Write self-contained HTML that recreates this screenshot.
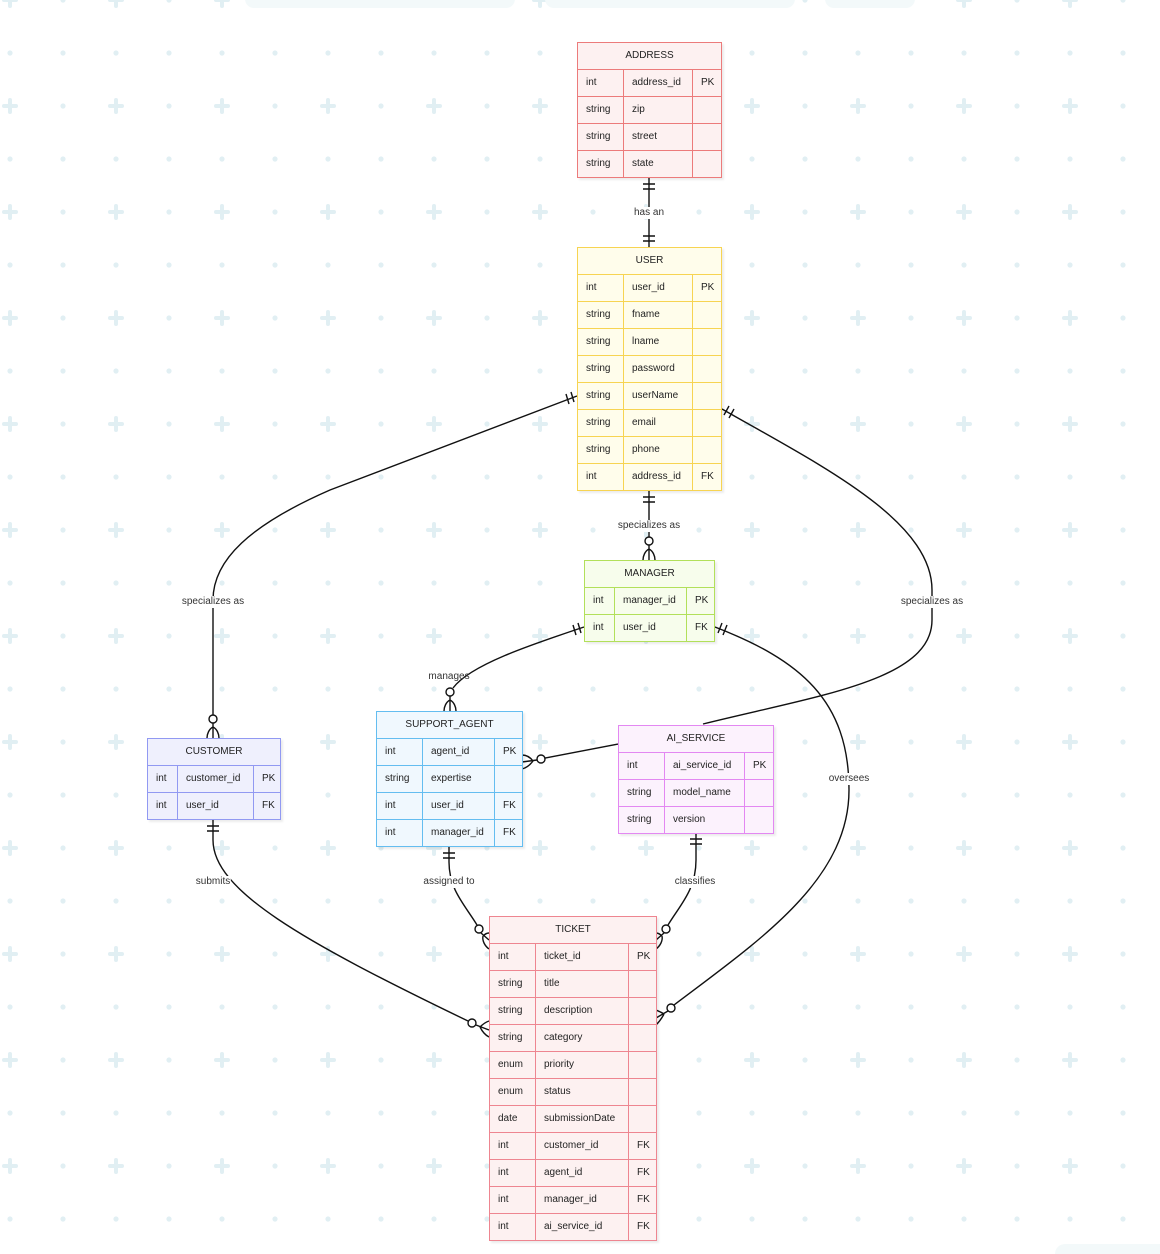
<!DOCTYPE html>
<html><head><meta charset="utf-8">
<style>
html,body{margin:0;padding:0;background:#fff;}
body{width:1160px;height:1254px;position:relative;overflow:hidden;font-family:"Liberation Sans","DejaVu Sans",sans-serif;}
svg{position:absolute;left:0;top:0;}
.t{position:absolute;box-sizing:border-box;font-size:10px;color:#222;box-shadow:2px 2px 2px rgba(0,0,0,0.08);}
.t .h{height:26px;line-height:26px;text-align:center;box-sizing:border-box;}
.t .r{display:flex;height:27px;line-height:26px;box-sizing:border-box;}
.t .r div{box-sizing:border-box;padding-left:8px;white-space:nowrap;}
.lbl{position:absolute;font-size:10px;color:#333;background:#fff;transform:translate(-50%,-50%);white-space:nowrap;padding:0 1px;line-height:12px;}
</style></head><body>
<svg width="1160" height="1254">
<defs>
<pattern id="bg" patternUnits="userSpaceOnUse" x="-43" y="-53" width="106" height="106">
<circle cx="0" cy="0" r="2.6" fill="#e1eff3"/><circle cx="106" cy="0" r="2.6" fill="#e1eff3"/><circle cx="0" cy="106" r="2.6" fill="#e1eff3"/><circle cx="106" cy="106" r="2.6" fill="#e1eff3"/>
<circle cx="53" cy="0" r="2.6" fill="#e1eff3"/><circle cx="53" cy="106" r="2.6" fill="#e1eff3"/>
<circle cx="0" cy="53" r="2.6" fill="#e1eff3"/><circle cx="106" cy="53" r="2.6" fill="#e1eff3"/>
<rect x="45" y="51" width="16" height="4" rx="2" fill="#e1eff3"/><rect x="51" y="45" width="4" height="16" rx="2" fill="#e1eff3"/>
</pattern>
</defs>
<rect width="1160" height="1254" fill="url(#bg)"/>
<rect x="245" y="-10" width="270" height="18" rx="9" fill="#f3f9fa"/>
<rect x="545" y="-10" width="250" height="18" rx="9" fill="#f3f9fa"/>
<rect x="825" y="-10" width="90" height="18" rx="9" fill="#f3f9fa"/>
<rect x="1055" y="1244" width="120" height="20" rx="10" fill="#f3f9fa"/>
<g fill="none" stroke="#111" stroke-width="1.4">
<path d="M649,178 L649,247"/>
<path d="M643,184 h12 M643,189 h12 M643,236 h12 M643,241 h12"/>
<path d="M649,491 L649,537"/>
<path d="M643,497 h12 M643,502 h12"/>
<circle cx="649" cy="541" r="4" fill="#fff"/>
<path d="M649,545 L649,560 M649,549 C645,551 643,556 643,560 M649,549 C653,551 655,556 655,560"/>
<path d="M577,396 L330,490 C250,525 213,560 213,600 L213,715"/>
<path d="M566,394 l3,10 M571,392 l3,10"/>
<circle cx="213" cy="719" r="4" fill="#fff"/>
<path d="M213,723 L213,738 M213,727 C209,729 207,734 207,738 M213,727 C217,729 219,734 219,738"/>
<path d="M722,409 C820,465 932,520 932,590 L932,620 C932,680 820,695 703,724"/>
<path d="M724,415 l5,-9 M729,418 l5,-9"/>
<path d="M584,627 C530,645 470,665 453,688"/>
<path d="M573,625 l3,10 M578,623 l3,10"/>
<circle cx="450" cy="692" r="4" fill="#fff"/>
<path d="M450,696 L450,711 M450,700 C446,702 444,707 444,711 M450,700 C454,702 456,707 456,711"/>
<path d="M715,627 C800,660 849,700 849,790 C849,880 760,940 674,1005"/>
<path d="M718,633 l4,-10 M723,635 l4,-10"/>
<circle cx="671" cy="1008" r="4" fill="#fff"/>
<path d="M668,1011 L656,1018 M664,1014 C661,1012 658,1011 656,1010 M664,1014 C662,1018 659,1022 656,1025"/>
<path d="M618,744 L545,758"/>
<circle cx="541" cy="759" r="4" fill="#fff"/>
<path d="M537,760 L522,762 M533,761 C530,757 526,755 522,755 M533,761 C530,765 526,768 522,769"/>
<path d="M213,820 L213,840 C213,890 300,940 468,1021"/>
<path d="M207,826 h12 M207,831 h12"/>
<circle cx="472" cy="1023" r="4" fill="#fff"/>
<path d="M476,1025 L489,1030 M480,1027 C483,1024 486,1022 489,1021 M480,1027 C482,1031 485,1035 489,1037"/>
<path d="M449,847 L449,862 C449,890 465,905 477,925"/>
<path d="M443,853 h12 M443,858 h12"/>
<circle cx="479" cy="929" r="4" fill="#fff"/>
<path d="M481,933 L489,940 M483,936 C485,934 487,933 489,933 M483,936 C482,941 485,946 489,949"/>
<path d="M696,833 L696,860 C696,890 680,905 668,925"/>
<path d="M690,839 h12 M690,844 h12"/>
<circle cx="666" cy="929" r="4" fill="#fff"/>
<path d="M664,933 L656,940 M662,936 C660,934 658,933 656,933 M662,936 C663,941 660,946 656,949"/>
</g>
</svg>

<div class="lbl" style="left:649px;top:213px">has an</div>
<div class="lbl" style="left:649px;top:526px">specializes as</div>
<div class="lbl" style="left:213px;top:602px">specializes as</div>
<div class="lbl" style="left:932px;top:602px">specializes as</div>
<div class="lbl" style="left:449px;top:677px;background:transparent">manages</div>
<div class="lbl" style="left:849px;top:779px">oversees</div>
<div class="lbl" style="left:213px;top:882px">submits</div>
<div class="lbl" style="left:449px;top:882px">assigned to</div>
<div class="lbl" style="left:695px;top:882px">classifies</div>

<div class="t" style="left:577px;top:42px;width:145px;background:#fdf1f1;border:1.5px solid #ec7b7b;">
<div class="h">ADDRESS</div>
<div class="r" style="border-top:1.5px solid #ec7b7b"><div style="width:46px;border-right:1.5px solid #ec7b7b">int</div><div style="width:69px;border-right:1.5px solid #ec7b7b">address_id</div><div>PK</div></div>
<div class="r" style="border-top:1.5px solid #ec7b7b"><div style="width:46px;border-right:1.5px solid #ec7b7b">string</div><div style="width:69px;border-right:1.5px solid #ec7b7b">zip</div><div></div></div>
<div class="r" style="border-top:1.5px solid #ec7b7b"><div style="width:46px;border-right:1.5px solid #ec7b7b">string</div><div style="width:69px;border-right:1.5px solid #ec7b7b">street</div><div></div></div>
<div class="r" style="border-top:1.5px solid #ec7b7b"><div style="width:46px;border-right:1.5px solid #ec7b7b">string</div><div style="width:69px;border-right:1.5px solid #ec7b7b">state</div><div></div></div>
</div>

<div class="t" style="left:577px;top:247px;width:145px;background:#fffdeb;border:1.5px solid #f7d452;">
<div class="h">USER</div>
<div class="r" style="border-top:1.5px solid #f7d452"><div style="width:46px;border-right:1.5px solid #f7d452">int</div><div style="width:69px;border-right:1.5px solid #f7d452">user_id</div><div>PK</div></div>
<div class="r" style="border-top:1.5px solid #f7d452"><div style="width:46px;border-right:1.5px solid #f7d452">string</div><div style="width:69px;border-right:1.5px solid #f7d452">fname</div><div></div></div>
<div class="r" style="border-top:1.5px solid #f7d452"><div style="width:46px;border-right:1.5px solid #f7d452">string</div><div style="width:69px;border-right:1.5px solid #f7d452">lname</div><div></div></div>
<div class="r" style="border-top:1.5px solid #f7d452"><div style="width:46px;border-right:1.5px solid #f7d452">string</div><div style="width:69px;border-right:1.5px solid #f7d452">password</div><div></div></div>
<div class="r" style="border-top:1.5px solid #f7d452"><div style="width:46px;border-right:1.5px solid #f7d452">string</div><div style="width:69px;border-right:1.5px solid #f7d452">userName</div><div></div></div>
<div class="r" style="border-top:1.5px solid #f7d452"><div style="width:46px;border-right:1.5px solid #f7d452">string</div><div style="width:69px;border-right:1.5px solid #f7d452">email</div><div></div></div>
<div class="r" style="border-top:1.5px solid #f7d452"><div style="width:46px;border-right:1.5px solid #f7d452">string</div><div style="width:69px;border-right:1.5px solid #f7d452">phone</div><div></div></div>
<div class="r" style="border-top:1.5px solid #f7d452"><div style="width:46px;border-right:1.5px solid #f7d452">int</div><div style="width:69px;border-right:1.5px solid #f7d452">address_id</div><div>FK</div></div>
</div>

<div class="t" style="left:584px;top:560px;width:131px;background:#f7fdec;border:1.5px solid #b2e05a;">
<div class="h">MANAGER</div>
<div class="r" style="border-top:1.5px solid #b2e05a"><div style="width:30px;border-right:1.5px solid #b2e05a">int</div><div style="width:72px;border-right:1.5px solid #b2e05a">manager_id</div><div>PK</div></div>
<div class="r" style="border-top:1.5px solid #b2e05a"><div style="width:30px;border-right:1.5px solid #b2e05a">int</div><div style="width:72px;border-right:1.5px solid #b2e05a">user_id</div><div>FK</div></div>
</div>

<div class="t" style="left:147px;top:738px;width:134px;background:#eff0fd;border:1.5px solid #9199f2;">
<div class="h">CUSTOMER</div>
<div class="r" style="border-top:1.5px solid #9199f2"><div style="width:30px;border-right:1.5px solid #9199f2">int</div><div style="width:76px;border-right:1.5px solid #9199f2">customer_id</div><div>PK</div></div>
<div class="r" style="border-top:1.5px solid #9199f2"><div style="width:30px;border-right:1.5px solid #9199f2">int</div><div style="width:76px;border-right:1.5px solid #9199f2">user_id</div><div>FK</div></div>
</div>

<div class="t" style="left:376px;top:711px;width:147px;background:#f0f8fe;border:1.5px solid #64bdf0;">
<div class="h">SUPPORT_AGENT</div>
<div class="r" style="border-top:1.5px solid #64bdf0"><div style="width:46px;border-right:1.5px solid #64bdf0">int</div><div style="width:72px;border-right:1.5px solid #64bdf0">agent_id</div><div>PK</div></div>
<div class="r" style="border-top:1.5px solid #64bdf0"><div style="width:46px;border-right:1.5px solid #64bdf0">string</div><div style="width:72px;border-right:1.5px solid #64bdf0">expertise</div><div></div></div>
<div class="r" style="border-top:1.5px solid #64bdf0"><div style="width:46px;border-right:1.5px solid #64bdf0">int</div><div style="width:72px;border-right:1.5px solid #64bdf0">user_id</div><div>FK</div></div>
<div class="r" style="border-top:1.5px solid #64bdf0"><div style="width:46px;border-right:1.5px solid #64bdf0">int</div><div style="width:72px;border-right:1.5px solid #64bdf0">manager_id</div><div>FK</div></div>
</div>

<div class="t" style="left:618px;top:725px;width:156px;background:#fcf2fd;border:1.5px solid #e388f2;">
<div class="h">AI_SERVICE</div>
<div class="r" style="border-top:1.5px solid #e388f2"><div style="width:46px;border-right:1.5px solid #e388f2">int</div><div style="width:80px;border-right:1.5px solid #e388f2">ai_service_id</div><div>PK</div></div>
<div class="r" style="border-top:1.5px solid #e388f2"><div style="width:46px;border-right:1.5px solid #e388f2">string</div><div style="width:80px;border-right:1.5px solid #e388f2">model_name</div><div></div></div>
<div class="r" style="border-top:1.5px solid #e388f2"><div style="width:46px;border-right:1.5px solid #e388f2">string</div><div style="width:80px;border-right:1.5px solid #e388f2">version</div><div></div></div>
</div>

<div class="t" style="left:489px;top:916px;width:168px;background:#fdf1f1;border:1.5px solid #ee8590;">
<div class="h">TICKET</div>
<div class="r" style="border-top:1.5px solid #ee8590"><div style="width:46px;border-right:1.5px solid #ee8590">int</div><div style="width:93px;border-right:1.5px solid #ee8590">ticket_id</div><div>PK</div></div>
<div class="r" style="border-top:1.5px solid #ee8590"><div style="width:46px;border-right:1.5px solid #ee8590">string</div><div style="width:93px;border-right:1.5px solid #ee8590">title</div><div></div></div>
<div class="r" style="border-top:1.5px solid #ee8590"><div style="width:46px;border-right:1.5px solid #ee8590">string</div><div style="width:93px;border-right:1.5px solid #ee8590">description</div><div></div></div>
<div class="r" style="border-top:1.5px solid #ee8590"><div style="width:46px;border-right:1.5px solid #ee8590">string</div><div style="width:93px;border-right:1.5px solid #ee8590">category</div><div></div></div>
<div class="r" style="border-top:1.5px solid #ee8590"><div style="width:46px;border-right:1.5px solid #ee8590">enum</div><div style="width:93px;border-right:1.5px solid #ee8590">priority</div><div></div></div>
<div class="r" style="border-top:1.5px solid #ee8590"><div style="width:46px;border-right:1.5px solid #ee8590">enum</div><div style="width:93px;border-right:1.5px solid #ee8590">status</div><div></div></div>
<div class="r" style="border-top:1.5px solid #ee8590"><div style="width:46px;border-right:1.5px solid #ee8590">date</div><div style="width:93px;border-right:1.5px solid #ee8590">submissionDate</div><div></div></div>
<div class="r" style="border-top:1.5px solid #ee8590"><div style="width:46px;border-right:1.5px solid #ee8590">int</div><div style="width:93px;border-right:1.5px solid #ee8590">customer_id</div><div>FK</div></div>
<div class="r" style="border-top:1.5px solid #ee8590"><div style="width:46px;border-right:1.5px solid #ee8590">int</div><div style="width:93px;border-right:1.5px solid #ee8590">agent_id</div><div>FK</div></div>
<div class="r" style="border-top:1.5px solid #ee8590"><div style="width:46px;border-right:1.5px solid #ee8590">int</div><div style="width:93px;border-right:1.5px solid #ee8590">manager_id</div><div>FK</div></div>
<div class="r" style="border-top:1.5px solid #ee8590"><div style="width:46px;border-right:1.5px solid #ee8590">int</div><div style="width:93px;border-right:1.5px solid #ee8590">ai_service_id</div><div>FK</div></div>
</div>
</body></html>
